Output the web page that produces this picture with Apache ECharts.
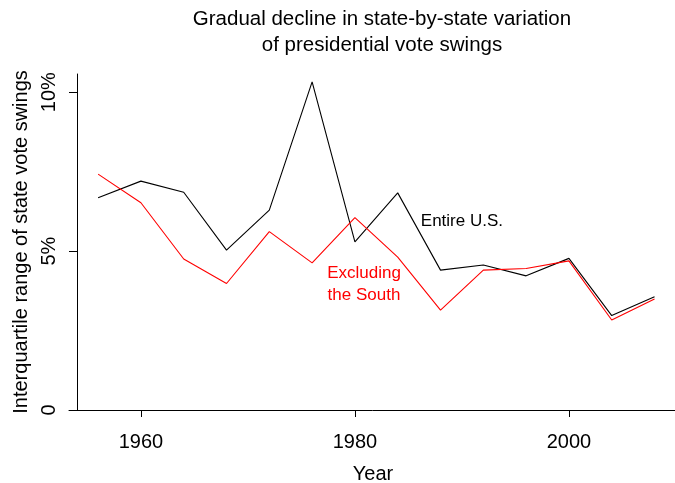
<!DOCTYPE html>
<html>
<head>
<meta charset="utf-8">
<script src="https://cdn.jsdelivr.net/npm/echarts@6/dist/echarts.min.js"></script>
<style>
html,body{margin:0;padding:0;background:#fff;}
#chart{width:675px;height:483px;}
</style>
</head>
<body>
<div id="chart"></div>
<script>
// Data
const years = [1956, 1960, 1964, 1968, 1972, 1976, 1980, 1984, 1988, 1992, 1996, 2000, 2004, 2008];
const entireUS = [6.68, 7.20, 6.85, 5.03, 6.29, 10.32, 5.29, 6.83, 4.40, 4.56, 4.22, 4.77, 2.97, 3.56];
const excludingSouth = [7.42, 6.52, 4.75, 3.98, 5.61, 4.63, 6.05, 4.81, 3.14, 4.40, 4.45, 4.69, 2.83, 3.49];
const xTickValues = [1960, 1980, 2000];
const yTickValues = [0, 5, 10];
const yTickLabels = ['0', '5%', '10%'];
const titleLines = ['Gradual decline in state-by-state variation', 'of presidential vote swings'];
const xAxisTitle = 'Year';
const yAxisTitle = 'Interquartile range of state vote swings';
const labelEntire = { text: 'Entire U.S.', year: 1990, value: 5.94 };
const labelSouth = { text: 'Excluding\nthe South', year: 1980.85, value: 3.96 };

const FONT = '"Liberation Sans", Arial, Helvetica, sans-serif';
const pairs = (ys) => years.map((y, i) => [y, ys[i]]);

const chart = echarts.init(document.getElementById('chart'), null, { renderer: 'canvas' });
chart.setOption({
  animation: false,
  backgroundColor: '#ffffff',
  textStyle: { fontFamily: FONT },
  title: {
    text: titleLines.join('\n'),
    left: 377,
    top: 1,
    textAlign: 'center',
    textStyle: { fontFamily: FONT, fontSize: 20.5, fontWeight: 'normal', color: '#000', lineHeight: 26, align: 'center' }
  },
  grid: { left: 69, top: 74, width: 608, height: 336, containLabel: false, outerBoundsMode: 'none' },
  xAxis: {
    type: 'value',
    min: 1953.28,
    max: 2010.1,
    name: xAxisTitle,
    nameLocation: 'middle',
    nameGap: 54,
    nameTextStyle: { fontFamily: FONT, fontSize: 20, color: '#000' },
    axisLine: { show: true, onZero: false, lineStyle: { color: '#000', width: 1 } },
    axisTick: { show: true, length: 7, lineStyle: { color: '#000', width: 1 }, customValues: xTickValues },
    axisLabel: { show: true, margin: 22, fontFamily: FONT, fontSize: 20, color: '#000', customValues: xTickValues, formatter: (v) => String(v) },
    splitLine: { show: false }
  },
  yAxis: {
    type: 'value',
    min: 0,
    max: 10.57,
    offset: -8,
    name: yAxisTitle,
    nameLocation: 'middle',
    nameRotate: 90,
    nameGap: 46,
    nameTextStyle: { fontFamily: FONT, fontSize: 20, color: '#000' },
    axisLine: { show: true, onZero: false, lineStyle: { color: '#000', width: 1 } },
    axisTick: { show: true, length: 8, lineStyle: { color: '#000', width: 1 }, customValues: yTickValues },
    axisLabel: {
      show: true, rotate: 90, margin: 18, fontFamily: FONT, fontSize: 20, color: '#000',
      customValues: yTickValues,
      formatter: (v) => yTickLabels[yTickValues.indexOf(v)] ?? ''
    },
    splitLine: { show: false }
  },
  series: [
    {
      name: 'Entire U.S.',
      type: 'line',
      data: pairs(entireUS),
      symbol: 'none',
      lineStyle: { color: '#000000', width: 1.1 },
      itemStyle: { color: '#000000' },
      markPoint: {
        symbol: 'circle', symbolSize: 1, itemStyle: { color: 'rgba(0,0,0,0)' },
        label: { show: true, position: 'inside', color: '#000', fontFamily: FONT, fontSize: 17, formatter: labelEntire.text },
        data: [{ coord: [labelEntire.year, labelEntire.value] }]
      }
    },
    {
      name: 'Excluding the South',
      type: 'line',
      data: pairs(excludingSouth),
      symbol: 'none',
      lineStyle: { color: '#ff0000', width: 1.1 },
      itemStyle: { color: '#ff0000' },
      markPoint: {
        symbol: 'circle', symbolSize: 1, itemStyle: { color: 'rgba(0,0,0,0)' },
        label: { show: true, position: 'inside', color: '#ff0000', fontFamily: FONT, fontSize: 17, lineHeight: 22, align: 'center', formatter: labelSouth.text },
        data: [{ coord: [labelSouth.year, labelSouth.value] }]
      }
    }
  ]
});
</script>
</body>
</html>
